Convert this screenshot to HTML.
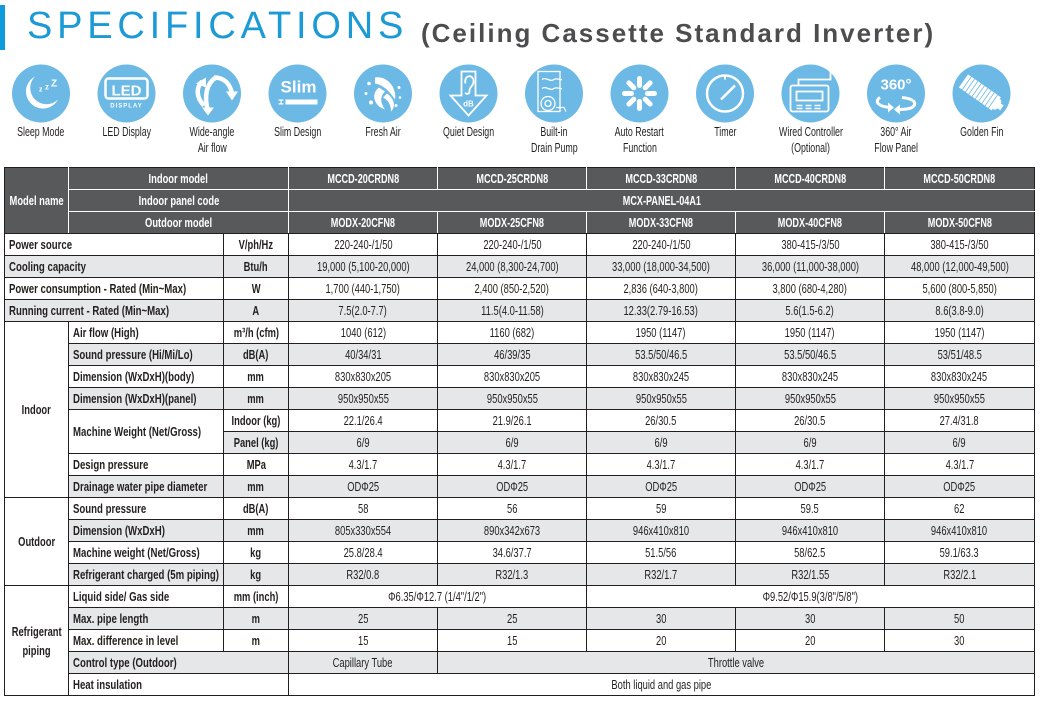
<!DOCTYPE html>
<html><head><meta charset="utf-8">
<style>
html,body{margin:0;padding:0;background:#fff;}
body{width:1040px;height:704px;position:relative;overflow:hidden;font-family:"Liberation Sans",sans-serif;}
.bar{position:absolute;left:0;top:5px;width:5px;height:45px;background:#0f9bdb;}
.t1{position:absolute;left:27px;top:7px;font-size:38px;line-height:38px;color:#1b9ad6;letter-spacing:4.8px;white-space:nowrap;}
.t2{position:absolute;left:421px;top:20px;font-size:26px;line-height:26px;font-weight:bold;color:#4d4d4f;letter-spacing:2px;white-space:nowrap;}
svg.ic{position:absolute;left:0;top:0;}
.lab{position:absolute;width:120px;text-align:center;font-size:13px;line-height:16px;color:#231f20;white-space:nowrap;}
.lab span{display:inline-block;transform:scaleX(.68);margin:0 -40px;}
table{position:absolute;left:4px;top:167px;width:1030px;border-collapse:collapse;table-layout:fixed;font-size:13px;color:#231f20;}
tr{height:22px;}
td{border:1px solid #231f20;padding:0;text-align:center;vertical-align:middle;line-height:18px;white-space:nowrap;overflow:visible;}
td.g{background:#e6e7e8;}
.hd td{background:#58595b;color:#fff;border-color:#fff;font-weight:bold;}
.hd td.tp{border-top-color:#231f20;}
.hd td.lf{border-left-color:#231f20;}
.hd td.rt{border-right-color:#231f20;}
.hd td.bt{border-bottom-color:#231f20;}
td.l{text-align:left;padding-left:4px;}
td.b{font-weight:bold;}
span.s{display:inline-block;transform:scaleX(.72);margin:0 -40px;}
span.sh{display:inline-block;transform:scaleX(.7);margin:0 -40px;}
span.sl{display:inline-block;transform:scaleX(.74);transform-origin:0 50%;margin-right:-120px;}
</style></head><body>
<div class="bar"></div>
<div class="t1">SPECIFICATIONS</div>
<div class="t2">(Ceiling Cassette Standard Inverter)</div>

<svg class="ic" width="1040" height="160" viewBox="0 0 1040 160">
<g fill="#6cb9e6">
<circle cx="41" cy="93.5" r="29"/><circle cx="126.5" cy="93.5" r="29"/><circle cx="212" cy="93.5" r="29"/>
<circle cx="297.5" cy="93.5" r="29"/><circle cx="383" cy="93.5" r="29"/><circle cx="468.5" cy="93.5" r="29"/>
<circle cx="554" cy="93.5" r="29"/><circle cx="639.5" cy="93.5" r="29"/><circle cx="725" cy="93.5" r="29"/>
<circle cx="810.5" cy="93.5" r="29"/><circle cx="896" cy="93.5" r="29"/><circle cx="981.5" cy="93.5" r="29"/>
</g>
<g transform="translate(41,93.5)">
<path d="M-6,-17 A17,17 0 1 0 17,6 A12,12 0 0 1 -6,-17 Z" fill="#fff"/>
<text x="-2" y="-2" font-size="7" font-weight="bold" fill="#fff" font-family="Liberation Sans">z</text>
<text x="4" y="-4" font-size="8" font-weight="bold" fill="#fff" font-family="Liberation Sans">z</text>
<text x="10" y="-7" font-size="10" font-weight="bold" fill="#fff" font-family="Liberation Sans">Z</text>
</g>
<g transform="translate(126.5,93.5)">
<rect x="-21" y="-15" width="42" height="20" rx="3" fill="none" stroke="#fff" stroke-width="2.5"/>
<text x="0" y="2" text-anchor="middle" font-size="15" font-weight="bold" fill="#fff" font-family="Liberation Sans">LED</text>
<text x="0" y="14" text-anchor="middle" font-size="6" font-weight="bold" fill="#fff" letter-spacing="1" font-family="Liberation Sans">DISPLAY</text>
</g>
<g transform="translate(212,93.5)" fill="none" stroke="#fff" stroke-width="4.5">
<path d="M-4,17 C-8,4 -6,-10 4,-16"/>
<path d="M2,-16 C12,-16 18,-10 20,0"/>
<path d="M-8,12 C-16,4 -16,-6 -10,-12"/>
</g>
<g transform="translate(212,93.5)" fill="#fff">
<polygon points="-10,14 2,14 -4,22"/>
<polygon points="14,-2 26,-2 20,7"/>
<polygon points="-16,-10 -6,-16 -6,-6"/>
</g>
<g transform="translate(297.5,93.5)">
<text x="1" y="-1" text-anchor="middle" font-size="17" font-weight="bold" fill="#fff" font-family="Liberation Sans">Slim</text>
<rect x="-12" y="6" width="32" height="5" fill="#fff"/>
<rect x="-19" y="6" width="5" height="1.2" fill="#fff"/><rect x="-19" y="9.8" width="5" height="1.2" fill="#fff"/><rect x="-17" y="6" width="1.2" height="5" fill="#fff"/>
</g>
<g transform="translate(383,93.5)" fill="#fff">
<path d="M-8,-16 C4,-18 14,-6 12,6 C8,0 2,-8 -8,-10 Z"/>
<path d="M-4,-6 C-12,0 -10,12 2,16 C-2,10 -4,4 2,-2 Z"/>
<path d="M4,0 C10,4 14,12 8,18 C8,10 4,6 0,4 Z"/>
<circle cx="-14" cy="-10" r="1.8"/><circle cx="-17" cy="0" r="1.5"/><circle cx="-12" cy="9" r="2"/><circle cx="16" cy="-6" r="1.5"/><circle cx="17" cy="4" r="1.3"/><circle cx="13" cy="12" r="1.5"/>
</g>
<g transform="translate(468.5,93.5)">
<path d="M-7,-22 L7,-22 L7,2 L18,2 L0,22 L-18,2 L-7,2 Z" fill="none" stroke="#fff" stroke-width="1.8"/>
<path d="M-3,-10 C-5,-18 4,-20 5,-13 C6,-8 0,-6 1,-2 C1,1 -3,1 -3,-1" fill="none" stroke="#fff" stroke-width="1.8"/>
<text x="0" y="13" text-anchor="middle" font-size="8" font-weight="bold" fill="#fff" font-family="Liberation Sans">dB</text>
</g>
<g transform="translate(554,93.5)" fill="none" stroke="#fff" stroke-width="1.3">
<rect x="-16" y="-22" width="22" height="40"/>
<path d="M-12,-14 C-8,-17 -4,-11 0,-14 C3,-16 6,-13 8,-14"/>
<path d="M-12,-5 C-8,-8 -4,-2 0,-5 C3,-7 6,-4 8,-5"/>
<circle cx="-6" cy="10" r="7"/><circle cx="-6" cy="10" r="3"/>
<path d="M2,14 L10,14 L12,18"/>
</g>
<g transform="translate(639.5,93.5)" stroke="#fff" stroke-width="5" stroke-linecap="round">
<line x1="0" y1="-8" x2="0" y2="-15"/><line x1="0" y1="8" x2="0" y2="15"/>
<line x1="-8" y1="0" x2="-15" y2="0"/><line x1="8" y1="0" x2="15" y2="0"/>
<line x1="5.7" y1="-5.7" x2="10.6" y2="-10.6"/><line x1="-5.7" y1="5.7" x2="-10.6" y2="10.6"/>
<line x1="-5.7" y1="-5.7" x2="-10.6" y2="-10.6"/><line x1="5.7" y1="5.7" x2="10.6" y2="10.6"/>
</g>
<g transform="translate(725,93.5)">
<circle cx="0" cy="0" r="18" fill="none" stroke="#fff" stroke-width="2.5"/>
<path d="M0,-18 L0,-14" stroke="#fff" stroke-width="2"/>
<path d="M-4,6 L10,-8" stroke="#fff" stroke-width="2.5"/>
</g>
<g transform="translate(810.5,93.5)" fill="none" stroke="#fff" stroke-width="1.8">
<rect x="-20" y="-8" width="38" height="26" rx="2"/>
<rect x="-14" y="-2" width="26" height="9"/>
<path d="M-12,-8 L-12,-14 L20,-14 L20,-28"/>
<path d="M-14,12 L-8,12 M-5,12 L1,12 M4,12 L10,12 M-14,15 L-8,15 M-5,15 L1,15 M4,15 L10,15" stroke-width="1.5"/>
</g>
<g transform="translate(896,93.5)">
<text x="0" y="-4" text-anchor="middle" font-size="15" font-weight="bold" fill="#fff" font-family="Liberation Sans">360°</text>
<path d="M-6,14 C-18,13 -22,8 -16,4" fill="none" stroke="#fff" stroke-width="3"/>
<path d="M6,4 C18,5 22,10 16,14 C12,16 6,16 2,16" fill="none" stroke="#fff" stroke-width="3"/>
<polygon points="-8,9 -8,19 -2,14" fill="#fff"/>
<polygon points="4,11 4,21 -2,16" fill="#fff"/>
</g>
<g transform="translate(981.5,93.5) rotate(35)">
<rect x="-22" y="-8" width="40" height="16" fill="#fff"/>
<path d="M-18,-8 L-18,8 M-14,-8 L-14,8 M-10,-8 L-10,8 M-6,-8 L-6,8 M-2,-8 L-2,8 M2,-8 L2,8 M6,-8 L6,8 M10,-8 L10,8 M14,-8 L14,8" stroke="#6cb9e6" stroke-width="0.8"/>
<ellipse cx="19" cy="0" rx="3" ry="6" fill="#fff"/>
<rect x="21" y="-3" width="4" height="6" fill="#fff"/>
</g>
</svg>

<div class="lab" style="left:-19px;top:124px"><span>Sleep Mode</span></div>
<div class="lab" style="left:66.5px;top:124px"><span>LED Display</span></div>
<div class="lab" style="left:152px;top:124px"><span>Wide-angle</span><br><span>Air flow</span></div>
<div class="lab" style="left:237.5px;top:124px"><span>Slim Design</span></div>
<div class="lab" style="left:323px;top:124px"><span>Fresh Air</span></div>
<div class="lab" style="left:408.5px;top:124px"><span>Quiet Design</span></div>
<div class="lab" style="left:494px;top:124px"><span>Built-in</span><br><span>Drain Pump</span></div>
<div class="lab" style="left:579.5px;top:124px"><span>Auto Restart</span><br><span>Function</span></div>
<div class="lab" style="left:665px;top:124px"><span>Timer</span></div>
<div class="lab" style="left:750.5px;top:124px"><span>Wired Controller</span><br><span>(Optional)</span></div>
<div class="lab" style="left:836px;top:124px"><span>360° Air</span><br><span>Flow Panel</span></div>
<div class="lab" style="left:921.5px;top:124px"><span>Golden Fin</span></div>

<table>
<colgroup><col style="width:64px"><col style="width:155px"><col style="width:65px"><col style="width:149px"><col style="width:149px"><col style="width:149px"><col style="width:149px"><col style="width:150px"></colgroup>
<tr class="hd"><td rowspan="3" class="tp lf bt"><span class="s">Model name</span></td><td colspan="2" class="tp"><span class="s">Indoor model</span></td><td class="tp"><span class="sh">MCCD-20CRDN8</span></td><td class="tp"><span class="sh">MCCD-25CRDN8</span></td><td class="tp"><span class="sh">MCCD-33CRDN8</span></td><td class="tp"><span class="sh">MCCD-40CRDN8</span></td><td class="tp rt"><span class="sh">MCCD-50CRDN8</span></td></tr>
<tr class="hd"><td colspan="2"><span class="s">Indoor panel code</span></td><td colspan="5" class="rt"><span class="sh">MCX-PANEL-04A1</span></td></tr>
<tr class="hd"><td colspan="2" class="bt"><span class="s">Outdoor model</span></td><td class="bt"><span class="sh">MODX-20CFN8</span></td><td class="bt"><span class="sh">MODX-25CFN8</span></td><td class="bt"><span class="sh">MODX-33CFN8</span></td><td class="bt"><span class="sh">MODX-40CFN8</span></td><td class="bt rt"><span class="sh">MODX-50CFN8</span></td></tr>

<tr><td colspan="2" class="l b"><span class="sl">Power source</span></td><td class="b"><span class="s">V/ph/Hz</span></td><td><span class="s">220-240-/1/50</span></td><td><span class="s">220-240-/1/50</span></td><td><span class="s">220-240-/1/50</span></td><td><span class="s">380-415-/3/50</span></td><td><span class="s">380-415-/3/50</span></td></tr>
<tr><td colspan="2" class="l b g"><span class="sl">Cooling capacity</span></td><td class="b g"><span class="s">Btu/h</span></td><td class="g"><span class="s">19,000 (5,100-20,000)</span></td><td class="g"><span class="s">24,000 (8,300-24,700)</span></td><td class="g"><span class="s">33,000 (18,000-34,500)</span></td><td class="g"><span class="s">36,000 (11,000-38,000)</span></td><td class="g"><span class="s">48,000 (12,000-49,500)</span></td></tr>
<tr><td colspan="2" class="l b"><span class="sl">Power consumption - Rated (Min~Max)</span></td><td class="b"><span class="s">W</span></td><td><span class="s">1,700 (440-1,750)</span></td><td><span class="s">2,400 (850-2,520)</span></td><td><span class="s">2,836 (640-3,800)</span></td><td><span class="s">3,800 (680-4,280)</span></td><td><span class="s">5,600 (800-5,850)</span></td></tr>
<tr><td colspan="2" class="l b g"><span class="sl">Running current - Rated (Min~Max)</span></td><td class="b g"><span class="s">A</span></td><td class="g"><span class="s">7.5(2.0-7.7)</span></td><td class="g"><span class="s">11.5(4.0-11.58)</span></td><td class="g"><span class="s">12.33(2.79-16.53)</span></td><td class="g"><span class="s">5.6(1.5-6.2)</span></td><td class="g"><span class="s">8.6(3.8-9.0)</span></td></tr>

<tr><td rowspan="8" class="b"><span class="s">Indoor</span></td><td class="l b"><span class="sl">Air flow (High)</span></td><td class="b"><span class="s">m³/h (cfm)</span></td><td><span class="s">1040 (612)</span></td><td><span class="s">1160 (682)</span></td><td><span class="s">1950 (1147)</span></td><td><span class="s">1950 (1147)</span></td><td><span class="s">1950 (1147)</span></td></tr>
<tr><td class="l b g"><span class="sl">Sound pressure (Hi/Mi/Lo)</span></td><td class="b g"><span class="s">dB(A)</span></td><td class="g"><span class="s">40/34/31</span></td><td class="g"><span class="s">46/39/35</span></td><td class="g"><span class="s">53.5/50/46.5</span></td><td class="g"><span class="s">53.5/50/46.5</span></td><td class="g"><span class="s">53/51/48.5</span></td></tr>
<tr><td class="l b"><span class="sl">Dimension (WxDxH)(body)</span></td><td class="b"><span class="s">mm</span></td><td><span class="s">830x830x205</span></td><td><span class="s">830x830x205</span></td><td><span class="s">830x830x245</span></td><td><span class="s">830x830x245</span></td><td><span class="s">830x830x245</span></td></tr>
<tr><td class="l b g"><span class="sl">Dimension (WxDxH)(panel)</span></td><td class="b g"><span class="s">mm</span></td><td class="g"><span class="s">950x950x55</span></td><td class="g"><span class="s">950x950x55</span></td><td class="g"><span class="s">950x950x55</span></td><td class="g"><span class="s">950x950x55</span></td><td class="g"><span class="s">950x950x55</span></td></tr>
<tr><td rowspan="2" class="l b"><span class="sl">Machine Weight (Net/Gross)</span></td><td class="b"><span class="s">Indoor (kg)</span></td><td><span class="s">22.1/26.4</span></td><td><span class="s">21.9/26.1</span></td><td><span class="s">26/30.5</span></td><td><span class="s">26/30.5</span></td><td><span class="s">27.4/31.8</span></td></tr>
<tr><td class="b g"><span class="s">Panel (kg)</span></td><td class="g"><span class="s">6/9</span></td><td class="g"><span class="s">6/9</span></td><td class="g"><span class="s">6/9</span></td><td class="g"><span class="s">6/9</span></td><td class="g"><span class="s">6/9</span></td></tr>
<tr><td class="l b"><span class="sl">Design pressure</span></td><td class="b"><span class="s">MPa</span></td><td><span class="s">4.3/1.7</span></td><td><span class="s">4.3/1.7</span></td><td><span class="s">4.3/1.7</span></td><td><span class="s">4.3/1.7</span></td><td><span class="s">4.3/1.7</span></td></tr>
<tr><td class="l b g"><span class="sl">Drainage water pipe diameter</span></td><td class="b g"><span class="s">mm</span></td><td class="g"><span class="s">ODΦ25</span></td><td class="g"><span class="s">ODΦ25</span></td><td class="g"><span class="s">ODΦ25</span></td><td class="g"><span class="s">ODΦ25</span></td><td class="g"><span class="s">ODΦ25</span></td></tr>

<tr><td rowspan="4" class="b"><span class="s">Outdoor</span></td><td class="l b"><span class="sl">Sound pressure</span></td><td class="b"><span class="s">dB(A)</span></td><td><span class="s">58</span></td><td><span class="s">56</span></td><td><span class="s">59</span></td><td><span class="s">59.5</span></td><td><span class="s">62</span></td></tr>
<tr><td class="l b g"><span class="sl">Dimension (WxDxH)</span></td><td class="b g"><span class="s">mm</span></td><td class="g"><span class="s">805x330x554</span></td><td class="g"><span class="s">890x342x673</span></td><td class="g"><span class="s">946x410x810</span></td><td class="g"><span class="s">946x410x810</span></td><td class="g"><span class="s">946x410x810</span></td></tr>
<tr><td class="l b"><span class="sl">Machine weight (Net/Gross)</span></td><td class="b"><span class="s">kg</span></td><td><span class="s">25.8/28.4</span></td><td><span class="s">34.6/37.7</span></td><td><span class="s">51.5/56</span></td><td><span class="s">58/62.5</span></td><td><span class="s">59.1/63.3</span></td></tr>
<tr><td class="l b g"><span class="sl">Refrigerant charged (5m piping)</span></td><td class="b g"><span class="s">kg</span></td><td class="g"><span class="s">R32/0.8</span></td><td class="g"><span class="s">R32/1.3</span></td><td class="g"><span class="s">R32/1.7</span></td><td class="g"><span class="s">R32/1.55</span></td><td class="g"><span class="s">R32/2.1</span></td></tr>

<tr><td rowspan="5" class="b" style="line-height:19px"><span class="s">Refrigerant</span><br><span class="s">piping</span></td><td class="l b"><span class="sl">Liquid side/ Gas side</span></td><td class="b"><span class="s">mm (inch)</span></td><td colspan="2"><span class="s">Φ6.35/Φ12.7 (1/4"/1/2")</span></td><td colspan="3"><span class="s">Φ9.52/Φ15.9(3/8"/5/8")</span></td></tr>
<tr><td class="l b g"><span class="sl">Max. pipe length</span></td><td class="b g"><span class="s">m</span></td><td class="g"><span class="s">25</span></td><td class="g"><span class="s">25</span></td><td class="g"><span class="s">30</span></td><td class="g"><span class="s">30</span></td><td class="g"><span class="s">50</span></td></tr>
<tr><td class="l b"><span class="sl">Max. difference in level</span></td><td class="b"><span class="s">m</span></td><td><span class="s">15</span></td><td><span class="s">15</span></td><td><span class="s">20</span></td><td><span class="s">20</span></td><td><span class="s">30</span></td></tr>
<tr><td colspan="2" class="l b g"><span class="sl">Control type (Outdoor)</span></td><td class="g"><span class="s">Capillary Tube</span></td><td colspan="4" class="g"><span class="s">Throttle valve</span></td></tr>
<tr><td colspan="2" class="l b"><span class="sl">Heat insulation</span></td><td colspan="5"><span class="s">Both liquid and gas pipe</span></td></tr>
</table>
</body></html>
